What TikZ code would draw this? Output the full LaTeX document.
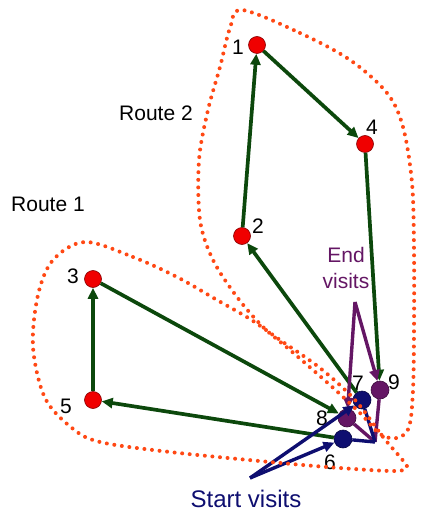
\documentclass[tikz,border=0pt]{standalone}
\usepackage{fontspec}
\setmainfont{Liberation Sans}
\usetikzlibrary{arrows.meta}
\definecolor{grn}{RGB}{12,72,12}
\definecolor{nodered}{RGB}{240,0,0}
\definecolor{purp}{RGB}{100,22,100}
\definecolor{navy}{RGB}{14,14,112}
\definecolor{dotc}{RGB}{255,72,20}
\begin{document}
\begin{tikzpicture}[x=1pt,y=-1pt,
  redn/.style={circle, fill=nodered, draw=nodered!55!black, line width=0.6pt, minimum size=17pt, inner sep=0pt},
  purn/.style={circle, fill=purp, draw=purp!60!black, line width=0.6pt, minimum size=18pt, inner sep=0pt},
  navn/.style={circle, fill=navy, draw=navy!60!black, line width=0.6pt, minimum size=18pt, inner sep=0pt},
  num/.style={font=\fontsize{21}{21}\selectfont, inner sep=0pt},
  gedge/.style={draw=grn, line width=3.7pt, -{Triangle[length=11pt,width=10pt]}},
  pline/.style={draw=purp, line width=3.4pt},
  nline/.style={draw=navy, line width=3.4pt},
  parrow/.style={draw=purp, line width=3.4pt, -{Triangle[length=11pt,width=10pt]}},
  narrow/.style={draw=navy, line width=3.4pt, -{Triangle[length=11pt,width=10pt]}},
  dotline/.style={draw=dotc, line width=4pt, line cap=round, dash pattern=on 0pt off 7.6pt}]
\useasboundingbox (0,0) rectangle (435,518);

% nodes
\node[redn] (n1) at (257,45) {};
\node[redn] (n4) at (365,144) {};
\node[redn] (n2) at (242,236) {};
\node[redn] (n3) at (93,279) {};
\node[redn] (n5) at (93,400) {};
\node[navn] (n7) at (362,400) {};
\node[purn] (n9) at (380,390) {};
\node[purn] (n8) at (347,418) {};
\node[navn] (n6) at (343,439) {};
\coordinate (hub) at (375,442);
\coordinate (endapex) at (355,302);
\coordinate (startapex) at (250,478);

% numbers
\node[num] (l1) at (238,47) {1};
\node[num] (l4) at (372,127) {4};
\node[num] (l2) at (258,226) {2};
\node[num] (l3) at (73,276) {3};
\node[num] (l5) at (66,406) {5};
\node[num] (l7) at (358,383) {7};
\node[num] (l9) at (394,382) {9};
\node[num] (l8) at (322,418) {8};
\node[num] (l6) at (330,462) {6};

% labels
\node[num] (r2) at (156,113) {Route 2};
\node[num] (r1) at (48,204) {Route 1};
\node[num, text=purp, align=center, font=\fontsize{21}{26}\selectfont] (endv) at (346,268) {End\\visits};
\node[num, text=navy, font=\fontsize{24}{24}\selectfont] (startv) at (246,499) {Start visits};

% green route edges
\draw[gedge] (n2) -- (n1);
\draw[gedge] (n1) -- (n4);
\draw[gedge] (n4) -- (n9);
\draw[gedge] (n7) -- (n2);
\draw[gedge] (n6) -- (n5);
\draw[gedge] (n5) -- (n3);
\draw[gedge] (n3) -- (n8);

% depot lines
\draw[pline] (hub) -- (n9);
\draw[pline] (hub) -- (n8);
\draw[nline] (hub) -- (n7);
\draw[nline] (hub) -- (n6);

% label arrows
\draw[parrow] (endapex) -- (n8);
\draw[parrow] (endapex) -- (n9);
\draw[narrow] (startapex) -- (n7);
\draw[narrow] (startapex) -- (n6);

% route outlines
\draw[dotline] plot[smooth cycle, tension=0.55] coordinates {
  (242,10) (300,33) (350,60) (387,93) (403,127) (412,183) (414,250)
  (414,330) (413,390) (409,427) (397,438) (380,434) (360,413) (330,385)
  (290,350) (263,327) (237,297) (213,260) (200,220) (199,160) (208,110)
  (220,67) (230,28)};
\draw[dotline] plot[smooth cycle, tension=0.55] coordinates {
  (85,242) (133,257) (177,277) (217,300) (250,319) (280,340) (320,368)
  (355,400) (383,437) (400,457) (407,467) (395,471) (340,468) (270,462)
  (170,452) (100,442) (72,428) (45,398) (33,347) (38,295) (53,260)};
\end{tikzpicture}
\end{document}
